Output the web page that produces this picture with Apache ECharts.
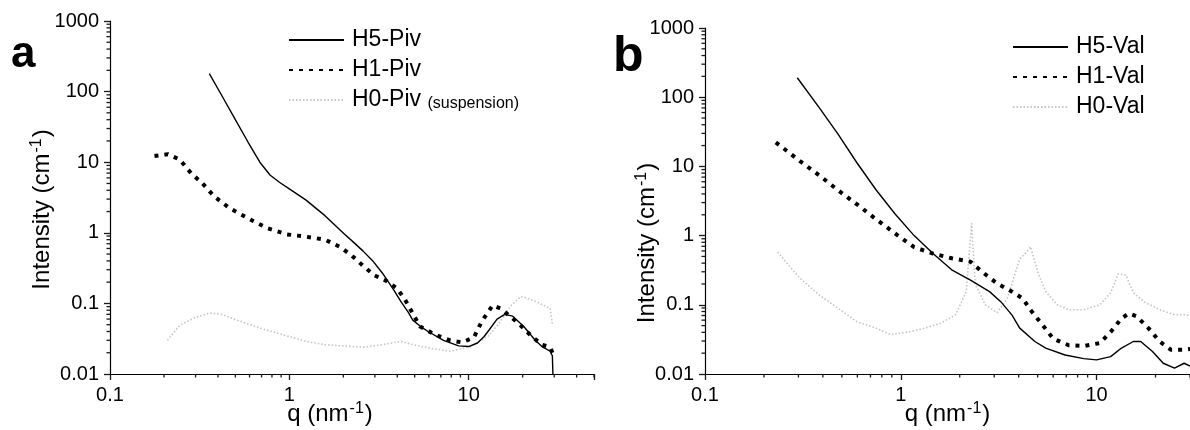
<!DOCTYPE html>
<html><head><meta charset="utf-8">
<script src="https://cdn.jsdelivr.net/npm/echarts/dist/echarts.min.js"></script>
<style>html,body{margin:0;padding:0;background:#fff}#c{width:1190px;height:430px}</style>
</head><body><div id="c"></div>
<script>
// ---------- data ----------
// Panel a
const qH5a = [0.358,0.42,0.50,0.59,0.685,0.78,0.88,1.0,1.24,1.58,2.02,2.3,2.58,2.92,3.3,3.82,4.2,4.6,4.88,5.4,5.94,7.24,8.8,10,11.2,12.2,13.0,14.4,15.9,17.6,20.3,23.5,25.9,28.5,29.3,29.5];
const iH5a = [180,88,40,19,10,6.6,5.2,4.2,2.9,1.75,0.97,0.72,0.55,0.40,0.27,0.155,0.105,0.075,0.058,0.047,0.040,0.030,0.025,0.0245,0.0275,0.034,0.042,0.060,0.070,0.066,0.047,0.030,0.024,0.021,0.018,0.010];
const qH1a = [0.177,0.21,0.245,0.283,0.328,0.38,0.463,0.59,0.755,0.97,1.24,1.58,1.92,2.22,2.58,2.98,3.45,3.99,4.4,4.88,5.36,6.5,7.9,9.2,10.7,11.8,13.6,15.0,16.5,19,22,25.5,28.5,29.3];
const iH1a = [12.2,13,10.9,7,5.0,3.3,2.24,1.6,1.16,0.95,0.88,0.80,0.63,0.48,0.34,0.25,0.21,0.163,0.115,0.072,0.047,0.036,0.030,0.028,0.033,0.055,0.094,0.085,0.070,0.052,0.036,0.026,0.024,0.020];
const qH0a = [0.209,0.245,0.297,0.36,0.42,0.51,0.68,0.92,1.24,1.58,2.58,3.3,4.2,4.9,6.2,7.9,10.1,13,15,17,19.5,21,23.5,28.5,29.3];
const iH0a = [0.030,0.049,0.063,0.073,0.070,0.058,0.045,0.036,0.029,0.026,0.024,0.026,0.029,0.026,0.023,0.021,0.024,0.035,0.055,0.09,0.125,0.12,0.107,0.085,0.05];
// Panel b
const qH5b = [0.296,0.384,0.479,0.598,0.747,0.933,1.17,1.46,1.82,2.27,2.84,3.24,3.7,4.05,4.84,5.5,6.9,8.6,10,11.8,13.4,15.4,16.8,19.3,21.9,25,28,30];
const iH5b = [191,70,29,11.2,4.6,2.07,1.0,0.55,0.32,0.227,0.155,0.111,0.071,0.046,0.0295,0.0237,0.0188,0.0167,0.0160,0.0178,0.0237,0.0295,0.0295,0.0212,0.0143,0.0122,0.0143,0.013];
const qH1b = [0.23,0.268,0.307,0.384,0.479,0.598,0.747,0.933,1.17,1.46,1.82,2.27,2.6,3.1,3.7,4.2,4.6,5.3,6.0,7.2,8.6,10.4,11.8,13.4,14.6,16,18.4,21,24,28,30];
const iH1b = [22.2,15.9,11.8,7.4,4.5,2.82,1.73,1.08,0.68,0.55,0.47,0.42,0.30,0.204,0.155,0.123,0.084,0.051,0.0325,0.026,0.0254,0.028,0.0406,0.0635,0.075,0.0683,0.046,0.0295,0.0224,0.0224,0.023];
const qH0b = [0.235,0.268,0.307,0.384,0.479,0.598,0.747,0.89,1.12,1.33,1.59,1.9,2.16,2.3,2.4,2.7,3.1,3.5,4.05,4.4,4.6,5.0,5.5,6.3,7.2,8.6,10.4,11.8,12.9,14.1,15.4,17.5,21,25,28,30];
const iH0b = [0.58,0.37,0.24,0.138,0.089,0.057,0.046,0.037,0.041,0.046,0.054,0.071,0.155,1.5,0.2,0.1,0.077,0.123,0.46,0.58,0.69,0.3,0.155,0.1,0.085,0.085,0.1,0.15,0.28,0.27,0.15,0.11,0.085,0.072,0.072,0.07];
// tick labels
const xLabels = [0.1, 1, 10];
const yLabels = [0.01, 0.1, 1, 10, 100, 1000];
const namesA = ['H5-Piv', 'H1-Piv', 'H0-Piv'];
const namesB = ['H5-Val', 'H1-Val', 'H0-Val'];

// ---------- helpers ----------
const zip = (q, v) => q.map((x, i) => [x, v[i]]);
const minorOf = (decades) => {
  const out = [];
  decades.forEach(d => { for (let k = 2; k <= 9; k++) out.push(+(d * k).toPrecision(6)); });
  return out;
};
const FONT = '"Liberation Sans", Arial, Helvetica, sans-serif';
const fmt = v => String(+(+v).toPrecision(6));
const TICK = '#1a1a1a';

const styles = [
  { color: '#000', width: 1.4, type: 'solid' },
  { color: '#000', width: 4, type: [4, 6], cap: 'butt' },
  { color: '#c4c4c4', width: 1.6, type: [1.5, 2] }
];

function mkSeries(name, q, v, gi, si) {
  return {
    type: 'line', name, data: zip(q, v),
    xAxisIndex: gi, yAxisIndex: gi,
    symbol: 'none', showSymbol: false, smooth: false,
    lineStyle: styles[si],
    itemStyle: { color: styles[si].color },
    z: 3 - si
  };
}

// minor tick marks at 2..9 of each decade, drawn through the axes' own scales
function minorTickSeries(gi, xMax) {
  const data = [];
  minorOf([0.1, 1, 10]).filter(v => v <= xMax).forEach(v => data.push([v, 0.01, 3.5, 0]));
  minorOf([0.01, 0.1, 1, 10, 100]).forEach(v => data.push([0.1, v, 3.5, 1]));
  return {
    type: 'custom', name: 'minorTicks' + gi, xAxisIndex: gi, yAxisIndex: gi, clip: false, silent: true,
    data, encode: { x: 0, y: 1 }, z: 6,
    renderItem: (params, api) => {
      const p = api.coord([api.value(0), api.value(1)]);
      const len = api.value(2);
      const horiz = api.value(3) === 1;
      return {
        type: 'line',
        shape: horiz ? { x1: p[0] - len, y1: p[1], x2: p[0], y2: p[1] }
                     : { x1: p[0], y1: p[1], x2: p[0], y2: p[1] + len },
        style: { stroke: TICK, lineWidth: 1.3 }
      };
    }
  };
}

const supRich = { sup: { fontSize: 16, fontFamily: FONT, color: '#000', verticalAlign: 'top', lineHeight: 14, padding: [0, 1, 0, 1] } };

function xAxis(gi, max, namePad) {
  return {
    type: 'log', gridIndex: gi, min: 0.1, max: max,
    axisLine: { show: true, lineStyle: { color: '#000', width: 1.2 } },
    axisTick: { show: true, length: 6, lineStyle: { color: TICK, width: 1.3 } },
    axisLabel: { show: true, customValues: xLabels, formatter: fmt, color: '#000', fontSize: 20, fontFamily: FONT, margin: 11 },
    splitLine: { show: false },
    name: 'q (nm{sup|-1})', nameLocation: 'middle', nameGap: 27, nameMoveOverlap: false,
    nameTextStyle: { fontSize: 24, fontFamily: FONT, color: '#000', lineHeight: 26, padding: namePad, rich: supRich }
  };
}
function yAxis(gi, gap, namePad) {
  return {
    type: 'log', gridIndex: gi, min: 0.01, max: 1000,
    axisLine: { show: true, lineStyle: { color: '#000', width: 1.2 } },
    axisTick: { show: true, length: 6, lineStyle: { color: TICK, width: 1.3 } },
    axisLabel: { show: true, customValues: yLabels, formatter: fmt, color: '#000', fontSize: 20, fontFamily: FONT, margin: 11 },
    splitLine: { show: false },
    name: 'Intensity (cm{sup|-1})', nameLocation: 'middle', nameGap: gap, nameRotate: 90, nameMoveOverlap: false,
    nameTextStyle: { fontSize: 24, fontFamily: FONT, color: '#000', lineHeight: 26, padding: namePad, rich: supRich }
  };
}

function mkLegend(names, left, top, formatter) {
  return {
    data: names.map(n => ({ name: n, itemStyle: { opacity: 0 } })),
    orient: 'vertical', left, top, padding: 0,
    itemWidth: 55, itemHeight: 14, itemGap: 6,
    selectedMode: false,
    textStyle: { fontSize: 23, fontFamily: FONT, color: '#000', lineHeight: 24, padding: [0, 0, 0, 3],
      rich: { s: { fontSize: 16, fontFamily: FONT, color: '#000', verticalAlign: 'bottom', lineHeight: 22 } } },
    formatter
  };
}

const option = {
  animation: false,
  backgroundColor: '#fff',
  grid: [
    { left: 110, top: 21, right: 596, bottom: 56, containLabel: false, outerBoundsMode: 'none' },
    { left: 705, top: 28, right: 0, bottom: 56, containLabel: false, outerBoundsMode: 'none' }
  ],
  xAxis: [xAxis(0, 50, [0, 44, 0, 0]), xAxis(1, 30, [0, 0, 0, 0])],
  yAxis: [yAxis(0, 55, [0, 24, 0, 0]), yAxis(1, 45, [0, 84, 0, 0])],
  legend: [
    mkLegend(namesA, 288, 28, n => n === 'H0-Piv' ? 'H0-Piv {s|(suspension)}' : n),
    mkLegend(namesB, 1012, 35, n => n)
  ],
  graphic: [
    { type: 'text', left: 11, top: 33, style: { text: 'a', font: 'bold 44px ' + FONT, fill: '#000' } },
    { type: 'text', left: 613, top: 32, style: { text: 'b', font: 'bold 50px ' + FONT, fill: '#000' } }
  ],
  series: [
    mkSeries(namesA[0], qH5a, iH5a, 0, 0),
    mkSeries(namesA[1], qH1a, iH1a, 0, 1),
    mkSeries(namesA[2], qH0a, iH0a, 0, 2),
    mkSeries(namesB[0], qH5b, iH5b, 1, 0),
    mkSeries(namesB[1], qH1b, iH1b, 1, 1),
    mkSeries(namesB[2], qH0b, iH0b, 1, 2),
    minorTickSeries(0, 50),
    minorTickSeries(1, 30)
  ]
};
const chart = echarts.init(document.getElementById('c'), null, { renderer: 'canvas' });
chart.setOption(option);
</script></body></html>
